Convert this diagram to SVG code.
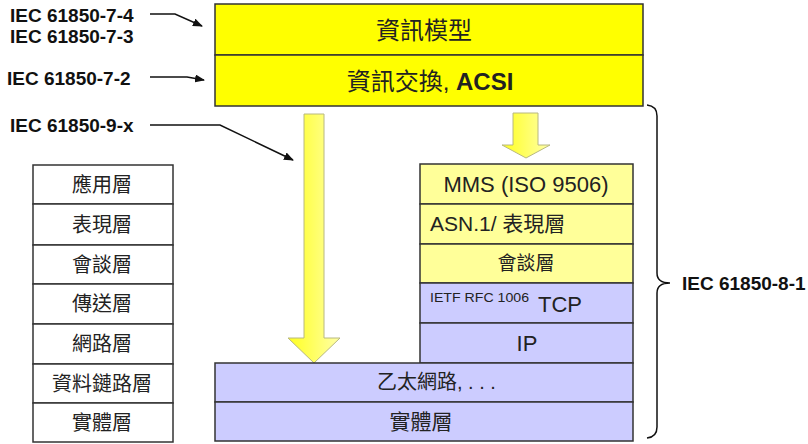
<svg xmlns="http://www.w3.org/2000/svg" width="808" height="444" viewBox="0 0 808 444">
<defs>
<style>
.lbl{font-family:"Liberation Sans","Noto Sans CJK TC",sans-serif;font-weight:bold;font-size:19px;fill:#111}
.t{font-family:"Liberation Sans","Noto Sans CJK TC",sans-serif;fill:#222}
.box{stroke:#333;stroke-width:1.5}
.osi{fill:#fff;stroke:#333;stroke-width:1.5}
.y1{fill:#ffff00}
.y2{fill:#ffff99}
.bl{fill:#ccccff}
.conn{fill:none;stroke:#111;stroke-width:1.5}
.arr{stroke:#b8b880;stroke-width:1}
</style>
<linearGradient id="g" x1="0" y1="0" x2="1" y2="0">
<stop offset="0" stop-color="#ffff20"/>
<stop offset="1" stop-color="#ffffa8"/>
</linearGradient>
<marker id="ah" markerWidth="10" markerHeight="8" refX="9" refY="4" orient="auto" markerUnits="userSpaceOnUse">
<path d="M0,0 L10,4 L0,8 z" fill="#111"/>
</marker>
</defs>
<rect width="808" height="444" fill="#fff"/>

<g id="labels">
<text class="lbl" x="10" y="22">IEC 61850-7-4</text>
<text class="lbl" x="10" y="43">IEC 61850-7-3</text>
<text class="lbl" x="7" y="85">IEC 61850-7-2</text>
<text class="lbl" x="10" y="132">IEC 61850-9-x</text>
<text class="lbl" x="682" y="290">IEC 61850-8-1</text>
</g>

<g id="connectors">
<path class="conn" d="M150,14 L175,14 L202,26" marker-end="url(#ah)"/>
<path class="conn" d="M150,77 L187,77 L204,80" marker-end="url(#ah)"/>
<path class="conn" d="M150,125 L220,125 L293,160" marker-end="url(#ah)"/>
<path class="conn" d="M647,105 Q657,106 657,116 L657,273 Q657,283 670,283 Q657,283 657,293 L657,427 Q657,437 647,438" stroke="#333"/>
</g>

<g id="bigArrow">
<polygon class="arr" fill="url(#g)" points="304,114 324,114 324,338 340,338 314,363 288,338 304,338"/>
</g>
<g id="smallArrow">
<polygon class="arr" fill="url(#g)" points="513,113 538,113 538,145 550,145 526,158 502,145 513,145"/>
</g>

<g id="infoModel">
<rect class="box y1" x="215" y="4" width="428" height="51"/>
<text class="t" x="424" y="39" font-size="24" text-anchor="middle">資訊模型</text>
</g>
<g id="acsi">
<rect class="box y1" x="215" y="55" width="428" height="51"/>
<text class="t" x="430" y="90" font-size="24" text-anchor="middle">資訊交換, <tspan font-weight="bold">ACSI</tspan></text>
</g>

<g id="mms">
<rect class="box y2" x="420" y="164" width="213" height="40"/>
<text class="t" x="526" y="192" font-size="22" text-anchor="middle">MMS (ISO 9506)</text>
</g>
<g id="asn1">
<rect class="box y2" x="420" y="204" width="213" height="40"/>
<text class="t" x="430" y="231" font-size="21">ASN.1/ 表現層</text>
</g>
<g id="session">
<rect class="box y2" x="420" y="244" width="213" height="39"/>
<text class="t" x="526" y="270" font-size="19" text-anchor="middle">會談層</text>
</g>
<g id="tcp">
<rect class="box bl" x="420" y="283" width="213" height="40"/>
<text class="t" x="430" y="302" font-size="13" textLength="99" lengthAdjust="spacingAndGlyphs">IETF RFC 1006</text>
<text class="t" x="538" y="312" font-size="22">TCP</text>
</g>
<g id="ip">
<rect class="box bl" x="420" y="323" width="213" height="40"/>
<text class="t" x="527" y="351" font-size="22" text-anchor="middle">IP</text>
</g>
<g id="ethernet">
<rect class="box bl" x="215" y="363" width="418" height="39"/>
<text class="t" x="377" y="389" font-size="20">乙太網路, . . .</text>
</g>
<g id="physical">
<rect class="box bl" x="215" y="402" width="418" height="39"/>
<text class="t" x="421" y="429" font-size="21" text-anchor="middle">實體層</text>
</g>

<g id="osi">
<rect class="osi" x="33" y="165" width="140" height="39"/>
<text class="t" x="102" y="192" font-size="20" text-anchor="middle">應用層</text>
<rect class="osi" x="33" y="204" width="140" height="41"/>
<text class="t" x="102" y="232" font-size="20" text-anchor="middle">表現層</text>
<rect class="osi" x="33" y="245" width="140" height="39"/>
<text class="t" x="102" y="272" font-size="20" text-anchor="middle">會談層</text>
<rect class="osi" x="33" y="284" width="140" height="40"/>
<text class="t" x="102" y="311" font-size="20" text-anchor="middle">傳送層</text>
<rect class="osi" x="33" y="324" width="140" height="40"/>
<text class="t" x="102" y="351" font-size="20" text-anchor="middle">網路層</text>
<rect class="osi" x="33" y="364" width="140" height="39"/>
<text class="t" x="102" y="391" font-size="20" text-anchor="middle">資料鏈路層</text>
<rect class="osi" x="33" y="403" width="140" height="39"/>
<text class="t" x="102" y="430" font-size="20" text-anchor="middle">實體層</text>
</g>
</svg>
